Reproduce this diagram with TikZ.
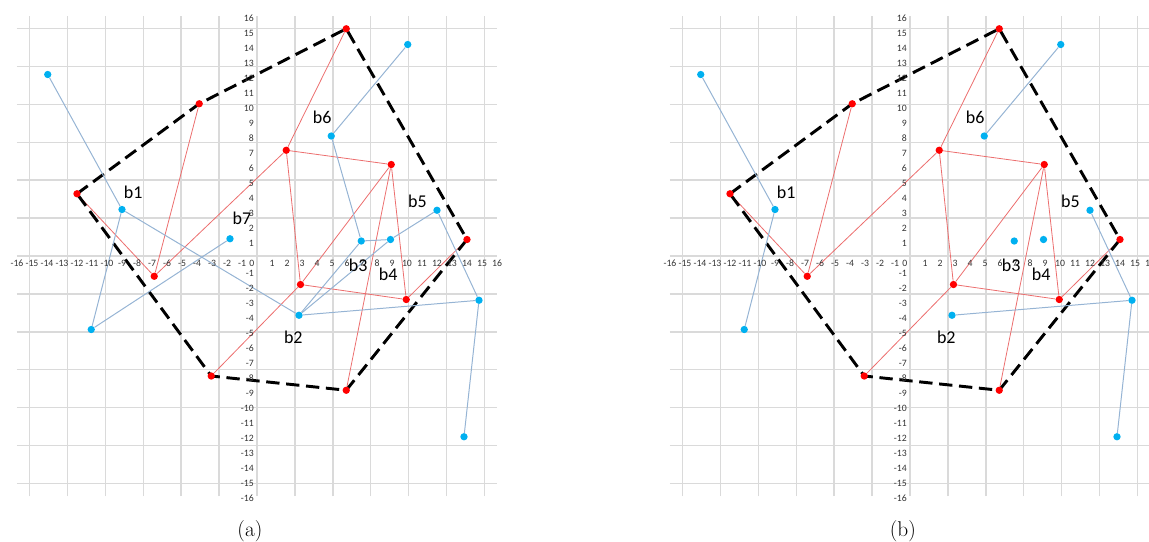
\documentclass[tikz,border=0pt]{standalone}
\usepackage{fontspec}
\newfontfamily\labelfont{Carlito}

\definecolor{dotred}{RGB}{255,0,0}
\definecolor{linered}{RGB}{236,110,110}
\definecolor{dotblue}{RGB}{0,176,240}
\definecolor{lineblue}{RGB}{150,180,212}
\definecolor{gridgray}{RGB}{218,218,218}

\pgfdeclarelayer{gridlayer}
\pgfdeclarelayer{edgelayer}
\pgfsetlayers{gridlayer,edgelayer,main}

\begin{document}
\begin{tikzpicture}[x=11.25pt,y=11.25pt,
    gridline/.style={gridgray,line width=1pt},
    rdot/.style={circle,fill=dotred,inner sep=0pt,minimum size=5.5pt},
    bdot/.style={circle,fill=dotblue,inner sep=0pt,minimum size=5.5pt},
    redge/.style={linered,line width=0.6pt},
    bedge/.style={lineblue,line width=0.75pt},
    hull/.style={black,line width=2.2pt,dash pattern=on 10pt off 5pt},
    blabel/.style={font=\labelfont\fontsize{13.5}{14}\selectfont,inner sep=0pt},
    ticklabel/.style={font=\labelfont\fontsize{7.3}{8}\selectfont,inner sep=0pt,text=black!80},
    caption/.style={font=\fontsize{16}{18}\selectfont,inner sep=0pt}]
  \useasboundingbox (-17.133,-19) rectangle (59.467,17.067);
  \clip (-17.133,-19) rectangle (59.467,17.067);
  \foreach \p/\sx in {a/0,b/43.533}{
    \begin{scope}[shift={(\sx,0)}]
      % grid and axis numbers
      \begin{pgfonlayer}{gridlayer}
        \draw[gridline] (-16,-16) grid (16,16);
      \end{pgfonlayer}
      \foreach \t in {-16,...,16}{
        \ifnum\t=0 \else
          \node[ticklabel] (\p x\t) at (\t,-0.5) {\t};
          \node[ticklabel,anchor=east] (\p y\t) at (-0.2,\t-0.15) {\t};
        \fi
      }
      \node[ticklabel] (\p x0) at (-0.35,-0.5) {0};
      % hull corners
      \node[rdot] (\p A) at (-12,4.15) {};
      \node[rdot] (\p B) at (-3.85,10.15) {};
      \node[rdot] (\p C) at (5.95,15.15) {};
      \node[rdot] (\p D) at (14,1.1) {};
      \node[rdot] (\p E) at (5.95,-8.95) {};
      \node[rdot] (\p F) at (-3.05,-8) {};
      % inner red points
      \node[rdot] (\p G) at (-6.85,-1.35) {};
      \node[rdot] (\p H) at (1.95,7.05) {};
      \node[rdot] (\p I) at (8.95,6.1) {};
      \node[rdot] (\p J) at (2.9,-1.9) {};
      \node[rdot] (\p K) at (9.95,-2.9) {};
      % blue points
      \node[bdot] (\p P1) at (-13.95,12.1) {};
      \node[bdot] (\p P2) at (-9,3.1) {};
      \node[bdot] (\p P4) at (-11.05,-4.9) {};
      \node[bdot] (\p P5) at (4.95,8) {};
      \node[bdot] (\p P6) at (10.05,14.1) {};
      \node[bdot] (\p P7) at (6.95,1) {};
      \node[bdot] (\p P8) at (8.9,1.1) {};
      \node[bdot] (\p P9) at (12,3.05) {};
      \node[bdot] (\p P10) at (14.8,-2.95) {};
      \node[bdot] (\p P11) at (13.8,-12.05) {};
      \node[bdot] (\p P12) at (2.8,-3.95) {};
      \begin{pgfonlayer}{edgelayer}
        \draw[redge] (\p A) -- (\p G) -- (\p B);
        \draw[redge] (\p G) -- (\p H) -- (\p C);
        \draw[redge] (\p H) -- (\p I) -- (\p J) -- (\p H);
        \draw[redge] (\p F) -- (\p J) -- (\p K) -- (\p D);
        \draw[redge] (\p E) -- (\p I) -- (\p K);
        \draw[hull] (\p A.center) -- (\p B.center) -- (\p C.center)
          -- (\p D.center) -- (\p E.center) -- (\p F.center) -- cycle;
        \draw[bedge] (\p P1) -- (\p P2) -- (\p P4);
        \draw[bedge] (\p P5) -- (\p P6);
        \draw[bedge] (\p P9) -- (\p P10) -- (\p P11);
        \draw[bedge] (\p P10) -- (\p P12);
      \end{pgfonlayer}
      % labels
      \node[blabel] (\p b1) at (-8.25,4.27) {b1};
      \node[blabel] (\p b6) at (4.35,9.27) {b6};
      \node[blabel] (\p b5) at (10.7,3.67) {b5};
      \node[blabel] (\p b3) at (6.75,-0.6) {b3};
      \node[blabel] (\p b4) at (8.75,-1.2) {b4};
      \node[blabel] (\p b2) at (2.42,-5.4) {b2};
      \node[caption] (\p cap) at (-0.47,-18.33) {(\p)};
    \end{scope}
  }
  % only in (a)
  \node[bdot] (aP3) at (-1.8,1.15) {};
  \node[blabel] (ab7) at (-1,2.5) {b7};
  \begin{pgfonlayer}{edgelayer}
    \draw[bedge] (aP2) -- (aP12) -- (aP7) -- (aP5);
    \draw[bedge] (aP4) -- (aP3);
    \draw[bedge] (aP7) -- (aP8) -- (aP9);
    \draw[bedge] (aP8) -- (aP12);
  \end{pgfonlayer}
\end{tikzpicture}
\end{document}
